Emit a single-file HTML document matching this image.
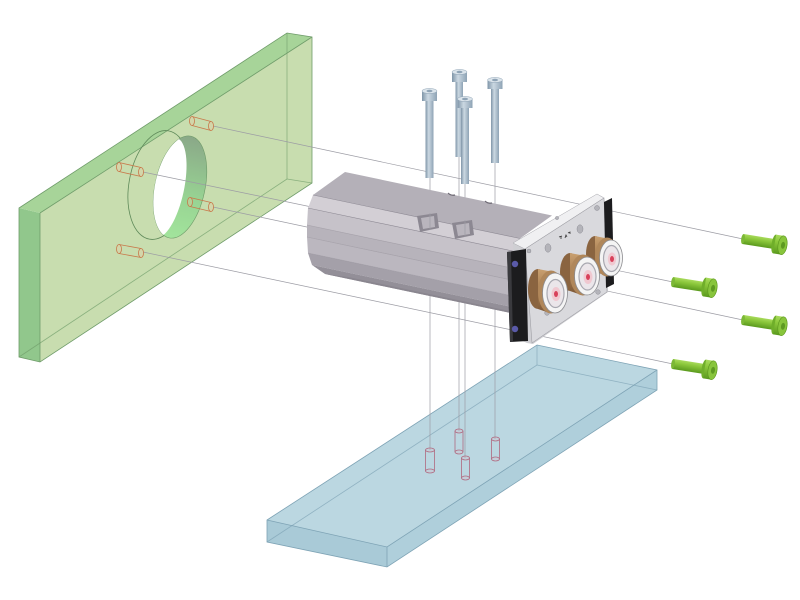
<!DOCTYPE html>
<html><head><meta charset="utf-8"><style>html,body{margin:0;padding:0;background:#fff}svg{display:block}</style></head>
<body>
<svg width="800" height="600" viewBox="0 0 800 600" xmlns="http://www.w3.org/2000/svg">
<defs>
 <linearGradient id="gscrew" x1="0" y1="0" x2="0" y2="1">
   <stop offset="0" stop-color="#a8da5c"/><stop offset="0.35" stop-color="#8cc83c"/><stop offset="1" stop-color="#5b9a1e"/>
 </linearGradient>
 <linearGradient id="bscrew" x1="0" y1="0" x2="1" y2="0">
   <stop offset="0" stop-color="#7f95a8"/><stop offset="0.4" stop-color="#cbd8e2"/><stop offset="1" stop-color="#8ea3b5"/>
 </linearGradient>
 <linearGradient id="wall" x1="0" y1="0" x2="0" y2="1">
   <stop offset="0" stop-color="#8aa888"/><stop offset="0.6" stop-color="#98d493"/><stop offset="1" stop-color="#a2e49c"/>
 </linearGradient>
 <linearGradient id="bronze" x1="0" y1="0" x2="0" y2="1">
   <stop offset="0" stop-color="#c9a070"/><stop offset="0.5" stop-color="#a67c50"/><stop offset="1" stop-color="#7a5636"/>
 </linearGradient>
 <clipPath id="holeclip"><ellipse cx="180" cy="187" rx="25" ry="52" transform="rotate(12 180 187)"/></clipPath>
</defs>

<!-- GREEN PLATE -->
<polygon points="19,208 40,213 40,362 19,357" fill="#91c78c"/>
<polygon points="19,208 287,33 312,37 40,213" fill="#a7d499"/>
<polygon points="40,213 312,37 312,183 40,362" fill="#c8ddaf"/>
<g fill="none" stroke="#6f9c6a" stroke-width="0.8">
 <polygon points="19,208 287,33 312,37 312,183 40,362 19,357"/>
 <line x1="40" y1="213" x2="312" y2="37"/>
 <line x1="40" y1="213" x2="40" y2="362"/>
 <line x1="287" y1="33" x2="287" y2="179" stroke-opacity="0.7"/>
 <line x1="287" y1="179" x2="19" y2="357" stroke-opacity="0.7"/>
 <line x1="287" y1="179" x2="312" y2="183" stroke-opacity="0.7"/>
</g>
<!-- hole -->
<ellipse cx="159" cy="185" rx="30" ry="55" transform="rotate(10 159 185)" fill="none" stroke="#5f8a5a" stroke-width="0.8"/>
<ellipse cx="180" cy="187" rx="25" ry="52" transform="rotate(12 180 187)" fill="url(#wall)" stroke="#6d9a68" stroke-width="0.6"/>
<g clip-path="url(#holeclip)">
 <ellipse cx="166" cy="188" rx="18" ry="51" transform="rotate(12 166 188)" fill="#ffffff"/>
</g>

<!-- BLUE PLATE -->
<polygon points="267,520 387,547 387,567 267,542" fill="#a9cad7"/>
<polygon points="387,547 657,370 657,390 387,567" fill="#afcfdb"/>
<polygon points="537,345 657,370 387,547 267,520" fill="#bbd7e1"/>
<g fill="none" stroke="#7ea3b5" stroke-width="0.8">
 <polygon points="537,345 657,370 657,390 387,567 267,542 267,520"/>
 <polyline points="267,520 387,547 657,370"/>
 <line x1="387" y1="547" x2="387" y2="567"/>
 <line x1="537" y1="345" x2="537" y2="365" stroke-opacity="0.7"/>
 <line x1="537" y1="365" x2="267" y2="542" stroke-opacity="0.7"/>
 <line x1="537" y1="365" x2="657" y2="390" stroke-opacity="0.7"/>
</g>

<!-- connector lines -->
<g stroke="#9c9ca4" stroke-width="0.7" fill="none">
 <line x1="213" y1="126" x2="743" y2="239"/>
 <line x1="143" y1="172" x2="673" y2="282"/>
 <line x1="213" y1="207" x2="743" y2="320"/>
 <line x1="143" y1="252" x2="673" y2="364"/>
 <line x1="430" y1="178" x2="430" y2="450"/>
 <line x1="459" y1="157" x2="459" y2="431"/>
 <line x1="465" y1="184" x2="465" y2="458"/>
 <line x1="495" y1="163" x2="495" y2="439"/>
</g>

<!-- green plate pins -->
<g fill="#e8c8a0" fill-opacity="0.35" stroke="#c8784a" stroke-width="0.8">
 <g><path d="M192,116.5 L211,121.5 M192,125.5 L211,130.5"/><ellipse cx="192" cy="121" rx="2.5" ry="4.5"/><ellipse cx="211" cy="126" rx="2.5" ry="4.5"/></g>
 <g><path d="M119,162.5 L141,167.5 M119,171.5 L141,176.5"/><ellipse cx="119" cy="167" rx="2.5" ry="4.5"/><ellipse cx="141" cy="172" rx="2.5" ry="4.5"/></g>
 <g><path d="M190,197.5 L211,202.5 M190,206.5 L211,211.5"/><ellipse cx="190" cy="202" rx="2.5" ry="4.5"/><ellipse cx="211" cy="207" rx="2.5" ry="4.5"/></g>
 <g><path d="M119,244.5 L141,248.5 M119,253.5 L141,257.5"/><ellipse cx="119" cy="249" rx="2.5" ry="4.5"/><ellipse cx="141" cy="253" rx="2.5" ry="4.5"/></g>
</g>

<!-- blue plate pins -->
<g fill="#d8b8c8" fill-opacity="0.3" stroke="#b06a80" stroke-width="0.8">
 <g><path d="M425.5,450 L425.5,471 M434.5,450 L434.5,471"/><ellipse cx="430" cy="450" rx="4.5" ry="2"/><ellipse cx="430" cy="471" rx="4.5" ry="2"/></g>
 <g><path d="M455,431 L455,452 M463,431 L463,452"/><ellipse cx="459" cy="431" rx="4" ry="2"/><ellipse cx="459" cy="452" rx="4" ry="2"/></g>
 <g><path d="M461.5,458 L461.5,478 M469.5,458 L469.5,478"/><ellipse cx="465.5" cy="458" rx="4" ry="2"/><ellipse cx="465.5" cy="478" rx="4" ry="2"/></g>
 <g><path d="M491.5,439 L491.5,459 M499.5,439 L499.5,459"/><ellipse cx="495.5" cy="439" rx="4" ry="2"/><ellipse cx="495.5" cy="459" rx="4" ry="2"/></g>
</g>

<!-- TOP SCREWS -->
<g>
 <!-- screw2 (back) -->
 <rect x="455.5" y="80" width="7.5" height="77" fill="url(#bscrew)"/>
 <rect x="452" y="72" width="15" height="10" fill="url(#bscrew)"/>
 <ellipse cx="459.5" cy="72" rx="7.5" ry="2.5" fill="#dbe4eb" stroke="#8ea3b5" stroke-width="0.5"/>
 <ellipse cx="459.5" cy="72" rx="3" ry="1.2" fill="#8ea3b5"/>
 <!-- screw1 -->
 <rect x="425.5" y="99" width="8" height="79" fill="url(#bscrew)"/>
 <rect x="422" y="91" width="15" height="10" fill="url(#bscrew)"/>
 <ellipse cx="429.5" cy="91" rx="7.5" ry="2.5" fill="#dbe4eb" stroke="#8ea3b5" stroke-width="0.5"/>
 <ellipse cx="429.5" cy="91" rx="3" ry="1.2" fill="#8ea3b5"/>
 <!-- screw4 -->
 <rect x="491" y="87" width="8" height="76" fill="url(#bscrew)"/>
 <rect x="487.5" y="80" width="15" height="9" fill="url(#bscrew)"/>
 <ellipse cx="495" cy="80" rx="7.5" ry="2.5" fill="#dbe4eb" stroke="#8ea3b5" stroke-width="0.5"/>
 <ellipse cx="495" cy="80" rx="3" ry="1.2" fill="#8ea3b5"/>
 <!-- screw3 (front) -->
 <rect x="461" y="106" width="8" height="78" fill="url(#bscrew)"/>
 <rect x="457.5" y="99" width="15" height="9" fill="url(#bscrew)"/>
 <ellipse cx="465" cy="99" rx="7.5" ry="2.5" fill="#dbe4eb" stroke="#8ea3b5" stroke-width="0.5"/>
 <ellipse cx="465" cy="99" rx="3" ry="1.2" fill="#8ea3b5"/>
</g>

<!-- BODY -->
<g stroke-width="0.6">
 <polygon points="345,172 313,195 520,238.5 552,215.5" fill="#b4b0b8"/>
 <polygon points="313,195 308,208 515,251.5 520,238.5" fill="#d3cfd5"/>
 <polygon points="308,208 307,225 514,268.5 515,251.5" fill="#c6c2c9"/>
 <polygon points="307,225 307,237 514,280.5 514,268.5" fill="#b7b3bb"/>
 <polygon points="307,237 308,253 515,296.5 514,280.5" fill="#bbb7bf"/>
 <polygon points="308,253 312,265 519,308.5 515,296.5" fill="#a4a0a9"/>
 <polygon points="312,265 325,274 532,317.5 519,308.5" fill="#938f98"/>
 <polygon points="325,274 348,277 555,320.5 532,317.5" fill="#8a868f"/>
 <g stroke="#8d8993" fill="none">
  <line x1="313" y1="195" x2="520" y2="238.5"/>
  <line x1="308" y1="208" x2="515" y2="251.5"/>
  <line x1="307" y1="225" x2="514" y2="268.5" stroke-opacity="0.6"/>
  <line x1="307" y1="237" x2="514" y2="280.5" stroke-opacity="0.6"/>
  <line x1="308" y1="253" x2="515" y2="296.5" stroke-opacity="0.5"/>
 </g>
 <!-- top notches -->
 <path d="M448,193 q3,3 7,2" stroke="#6e6a74" stroke-width="1.2" fill="none"/>
 <path d="M485,201 q3,3 7,2" stroke="#6e6a74" stroke-width="1.2" fill="none"/>
 <!-- pockets -->
 <polygon points="417,216 437,213 439,228 420,232" fill="#8c8892"/>
 <polygon points="421,218 434,216 435,227 423,229" fill="#b9b5bd"/>
 <polygon points="452,223 472,220 474,235 455,239" fill="#8c8892"/>
 <polygon points="456,225 469,223 470,234 458,236" fill="#b9b5bd"/>
 <line x1="430" y1="213" x2="430" y2="230" stroke="#9c9ca4" stroke-width="0.7"/>
 <line x1="465" y1="220" x2="465" y2="237" stroke="#9c9ca4" stroke-width="0.7"/>
</g>

<!-- END PLATE -->
<polygon points="513,243 597,194 603,197 606,205 608,292 533,344 527,343 516,338" fill="#cfcfd3"/>
<polygon points="513,243 597,194 604,198 525,249" fill="#f0f0f2" stroke="#a8a8ae" stroke-width="0.5"/>
<polygon points="525,249 604,198 607,292 532,343" fill="#d9d9dd" stroke="#a0a0a6" stroke-width="0.6"/>
<!-- holes -->
<g fill="#b4b4ba" stroke="#8e8e96" stroke-width="0.5">
 <circle cx="597" cy="208" r="2.5"/>
 <circle cx="557" cy="218" r="1.6"/>
 <ellipse cx="580" cy="229" rx="3" ry="4.2"/>
 <ellipse cx="548" cy="248" rx="3" ry="4.2"/>
 <circle cx="529" cy="251" r="2"/>
 <circle cx="598" cy="292" r="2.3"/>
 <circle cx="547" cy="313" r="2.3"/>
</g>
<g stroke="#333" stroke-width="0.8" fill="none">
 <path d="M559,237 l3,-1 M561,236 l0,3 M565,238 l1,-3 l1,2 M568,233 l2,-1 l0,2"/>
</g>
<!-- left black bar -->
<polygon points="507,252 526,249 528,341 510,342" fill="#1c1c1e"/>
<polygon points="507,252 511,251.5 513,341.8 510,342" fill="#3a3a3e"/>
<circle cx="515" cy="264" r="3.2" fill="#5a5aa8"/>
<circle cx="515" cy="329" r="3.2" fill="#5a5aa8"/>
<!-- right black bar -->
<polygon points="604,202 612,198 614,284 606,288" fill="#1c1c1e"/>

<!-- ROLLERS -->
<g transform="translate(611,258)">
 <ellipse cx="-16" cy="-4" rx="9" ry="18" fill="#8a6440"/>
 <path d="M-16,-22 L-4,-19.5 L-4,17.5 L-16,14 Z" fill="url(#bronze)"/>
 <ellipse cx="-4" cy="-1" rx="12" ry="19.5" fill="#b0875a"/>
 <ellipse cx="0" cy="0" rx="11.5" ry="18" fill="#f4f4f4" stroke="#8c8c90" stroke-width="0.8"/>
 <ellipse cx="0.5" cy="0.5" rx="8" ry="13" fill="#ebe6ea" stroke="#a8a8b0" stroke-width="1.2"/>
 <ellipse cx="1" cy="1" rx="4.2" ry="6.5" fill="#f0c8d0"/>
 <ellipse cx="1" cy="1" rx="2" ry="3" fill="#d8405a"/>
</g>
<g transform="translate(587,276)">
 <ellipse cx="-17" cy="-4" rx="10" ry="19" fill="#8a6440"/>
 <path d="M-17,-23 L-4,-20.5 L-4,19.5 L-17,15 Z" fill="url(#bronze)"/>
 <ellipse cx="-4" cy="-1" rx="13" ry="20.5" fill="#b0875a"/>
 <ellipse cx="0" cy="0" rx="12.5" ry="19" fill="#f4f4f4" stroke="#8c8c90" stroke-width="0.8"/>
 <ellipse cx="0.5" cy="0.5" rx="8.5" ry="13.5" fill="#ebe6ea" stroke="#a8a8b0" stroke-width="1.2"/>
 <ellipse cx="1" cy="1" rx="4.5" ry="7" fill="#f0c8d0"/>
 <ellipse cx="1" cy="1" rx="2" ry="3" fill="#d8405a"/>
</g>
<g transform="translate(555,293)">
 <ellipse cx="-17" cy="-4" rx="10" ry="20" fill="#8a6440"/>
 <path d="M-17,-24 L-4,-21.5 L-4,20.5 L-17,16 Z" fill="url(#bronze)"/>
 <ellipse cx="-4" cy="-1" rx="13" ry="21.5" fill="#b0875a"/>
 <ellipse cx="0" cy="0" rx="12.5" ry="20" fill="#f4f4f4" stroke="#8c8c90" stroke-width="0.8"/>
 <ellipse cx="0.5" cy="0.5" rx="8.5" ry="14" fill="#ebe6ea" stroke="#a8a8b0" stroke-width="1.2"/>
 <ellipse cx="1" cy="1" rx="4.5" ry="7" fill="#f0c8d0"/>
 <ellipse cx="1" cy="1" rx="2" ry="3" fill="#d8405a"/>
</g>

<!-- GREEN SCREWS -->
<g id="gs1" transform="translate(743,239) rotate(9)">
 <rect x="0" y="-5" width="34" height="10" fill="url(#gscrew)"/>
 <ellipse cx="0" cy="0" rx="1.8" ry="5" fill="#7cb836"/>
 <ellipse cx="32" cy="0" rx="3" ry="9.5" fill="#6fae2a"/>
 <rect x="32" y="-9.5" width="8" height="19" fill="url(#gscrew)"/>
 <ellipse cx="40" cy="0" rx="4.5" ry="9.5" fill="#88c53c" stroke="#5a941c" stroke-width="0.6"/>
 <ellipse cx="40.5" cy="0" rx="2" ry="3.5" fill="#5e9a22"/>
</g>
<g transform="translate(673,282) rotate(9)">
 <rect x="0" y="-5" width="34" height="10" fill="url(#gscrew)"/>
 <ellipse cx="0" cy="0" rx="1.8" ry="5" fill="#7cb836"/>
 <ellipse cx="32" cy="0" rx="3" ry="9.5" fill="#6fae2a"/>
 <rect x="32" y="-9.5" width="8" height="19" fill="url(#gscrew)"/>
 <ellipse cx="40" cy="0" rx="4.5" ry="9.5" fill="#88c53c" stroke="#5a941c" stroke-width="0.6"/>
 <ellipse cx="40.5" cy="0" rx="2" ry="3.5" fill="#5e9a22"/>
</g>
<g transform="translate(743,320) rotate(9)">
 <rect x="0" y="-5" width="34" height="10" fill="url(#gscrew)"/>
 <ellipse cx="0" cy="0" rx="1.8" ry="5" fill="#7cb836"/>
 <ellipse cx="32" cy="0" rx="3" ry="9.5" fill="#6fae2a"/>
 <rect x="32" y="-9.5" width="8" height="19" fill="url(#gscrew)"/>
 <ellipse cx="40" cy="0" rx="4.5" ry="9.5" fill="#88c53c" stroke="#5a941c" stroke-width="0.6"/>
 <ellipse cx="40.5" cy="0" rx="2" ry="3.5" fill="#5e9a22"/>
</g>
<g transform="translate(673,364) rotate(9)">
 <rect x="0" y="-5" width="34" height="10" fill="url(#gscrew)"/>
 <ellipse cx="0" cy="0" rx="1.8" ry="5" fill="#7cb836"/>
 <ellipse cx="32" cy="0" rx="3" ry="9.5" fill="#6fae2a"/>
 <rect x="32" y="-9.5" width="8" height="19" fill="url(#gscrew)"/>
 <ellipse cx="40" cy="0" rx="4.5" ry="9.5" fill="#88c53c" stroke="#5a941c" stroke-width="0.6"/>
 <ellipse cx="40.5" cy="0" rx="2" ry="3.5" fill="#5e9a22"/>
</g>
</svg>
</body></html>
